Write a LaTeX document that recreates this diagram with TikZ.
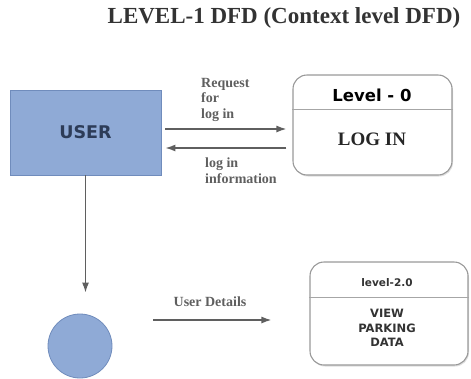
\documentclass[tikz,border=0pt]{standalone}
\usepackage{fontspec}
\setmainfont{Liberation Serif}
\newfontfamily\boxfont{DejaVu Sans}
\usepackage{tikz}
\usetikzlibrary{arrows.meta,shadows}

\definecolor{userblue}{RGB}{143,170,214}
\definecolor{userline}{RGB}{112,140,188}
\definecolor{usertext}{RGB}{45,60,88}
\definecolor{flowgray}{RGB}{95,95,95}

\begin{document}
\begin{tikzpicture}[x=1pt,y=-1pt,
        flow/.style={-{Latex[length=10pt,width=7pt]},draw=flowgray,line width=1.4pt},
        flowlabel/.style={text=flowgray,font=\bfseries\fontsize{14}{15.5}\selectfont,
            align=left,inner sep=0pt},
        process/.style={draw=gray!80,line width=1.1pt,rounded corners=14pt,fill=white,
            drop shadow={opacity=0.25,shadow xshift=1pt,shadow yshift=-1.5pt}},
        entity/.style={draw=userline,fill=userblue,line width=0.8pt}]
        \tikzstyle{divider}=[draw=gray!70,line width=0.8pt]

        \useasboundingbox (0,0) rectangle (471,378);

        \node[font=\bfseries\fontsize{23}{26}\selectfont,text=black!80] (title) at (284,18)
            {LEVEL-1 DFD (Context level DFD)};

        \node[entity,minimum width=151pt,minimum height=85pt] (user) at (85.5,132.5)
            {\boxfont\bfseries\fontsize{17.5}{20}\selectfont\color{usertext}USER};
        \node[entity,circle,minimum size=64pt] (store) at (80,346) {};

        \node[process,minimum width=159pt,minimum height=100pt] (login) at (372.5,125) {};
        \node[process,minimum width=158pt,minimum height=103pt] (level20) at (389,313.5) {};

        \draw[divider] (login.west |- 0,109) -- (login.east |- 0,109);
        \draw[divider] (level20.west |- 0,297) -- (level20.east |- 0,297);

        \node[font=\boxfont\bfseries\fontsize{16.5}{19}\selectfont] (lvl0) at (372,95) {Level - 0};
        \node[font=\bfseries\fontsize{19}{22}\selectfont,text=black!85] (logintext) at (372,139) {LOG IN};
        \node[font=\boxfont\bfseries\fontsize{10.5}{13}\selectfont,text=black!80] (lvl2) at (387,283) {level-2.0};
        \node[font=\boxfont\bfseries\fontsize{11.5}{14.5}\selectfont,text=black!80,align=center]
            (viewtext) at (387,328) {VIEW\\PARKING\\DATA};

        % flows between user and log in
        \draw[flow,shorten <=4pt,shorten >=6pt] (user.east |- 0,129) -- (login.west |- 0,129);
        \draw[flow,shorten <=6pt,shorten >=4pt] (login.west |- 0,148) -- (user.east |- 0,148);
        \node[flowlabel,anchor=west] (reqlabel) at (201,99.5) {Request\\for\\log in};
        \node[flowlabel,anchor=west] (infolabel) at (205,170.5) {log in\\information};

        \draw[flow,shorten >=21pt] (user.south) -- (user.south |- store.north);

        \draw[flow,shorten <=41pt,shorten >=38pt] (store.east |- 0,320) -- (level20.west |- 0,320);
        \node[flowlabel] (detlabel) at (210,302) {User Details};
\end{tikzpicture}
\end{document}
